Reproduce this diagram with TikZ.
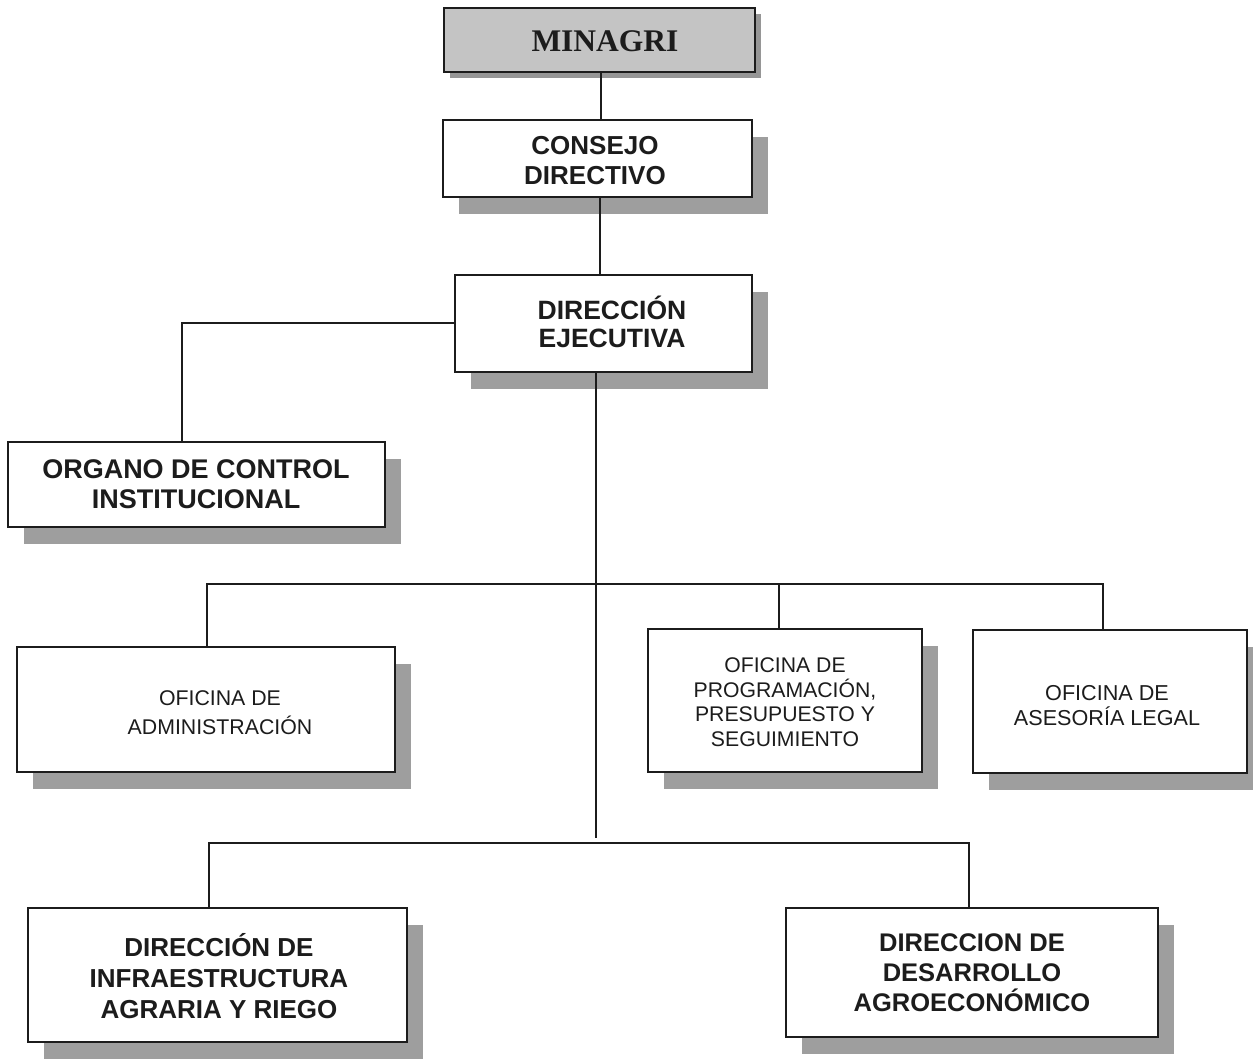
\documentclass[tikz,border=0pt]{standalone}
\usepackage{fontspec}
\setmainfont{Liberation Sans}
\newfontfamily\serifmin{Liberation Serif}
\usetikzlibrary{shadows}
\definecolor{shadowgray}{RGB}{158,158,158}
\definecolor{topfill}{RGB}{196,196,196}
\definecolor{topshadow}{RGB}{150,150,150}
\definecolor{ink}{RGB}{28,28,28}
\tikzset{
  orgbox/.style={draw=ink, line width=1.5pt, fill=white, inner sep=0pt,
    drop shadow={shadow xshift=16pt, shadow yshift=-17pt, fill=shadowgray, opacity=1}},
  topbox/.style={draw=ink, line width=1.5pt, fill=topfill, inner sep=0pt,
    drop shadow={shadow xshift=6pt, shadow yshift=-6pt, fill=topshadow, opacity=1}},
  boldtxt/.style={text=ink, align=center, inner sep=0pt, font=\fontsize{26}{30}\selectfont\bfseries},
  regtxt/.style={text=ink, align=center, inner sep=0pt},
  conn/.style={draw=ink, line width=1.6pt}
}
\begin{document}
\begin{tikzpicture}[x=1pt,y=-1pt]
\useasboundingbox (0,0) rectangle (1253,1058);
\fill[white] (0,0) rectangle (1253,1058);

% boxes
\node[topbox, minimum width=311pt, minimum height=64pt] (minagri) at (599.5,40) {};
\node[text=ink, inner sep=0pt, font=\serifmin\fontsize{31.5}{34}\selectfont\bfseries] (minagriT) at (605,41) {MINAGRI};

\node[orgbox, minimum width=309pt, minimum height=77pt] (consejo) at (597.5,158.5) {};
\node[boldtxt] (consejoT) at (595,161) {CONSEJO\\DIRECTIVO};

\node[orgbox, minimum width=297pt, minimum height=97pt] (dirEj) at (603.5,323.5) {};
\node[boldtxt, font=\fontsize{26.5}{28}\selectfont\bfseries] (dirEjT) at (612,322) {DIRECCIÓN\\EJECUTIVA};

\node[orgbox, minimum width=377pt, minimum height=85pt] (organo) at (196.5,484.5) {};
\node[boldtxt, font=\fontsize{27}{30}\selectfont\bfseries] (organoT) at (196,484) {ORGANO DE CONTROL\\INSTITUCIONAL};

\node[orgbox, minimum width=378pt, minimum height=125pt] (ofAdm) at (206,709.5) {};
\node[regtxt, font=\fontsize{21.3}{29}\selectfont] (ofAdmT) at (220,713) {OFICINA DE\\ADMINISTRACIÓN};

\node[orgbox, minimum width=274pt, minimum height=143pt] (ofProg) at (785,700.5) {};
\node[regtxt, font=\fontsize{21.2}{24.5}\selectfont] (ofProgT) at (785,702) {OFICINA DE\\PROGRAMACIÓN,\\PRESUPUESTO Y\\SEGUIMIENTO};

\node[orgbox, minimum width=274pt, minimum height=143pt] (ofLegal) at (1110,701.5) {};
\node[regtxt, font=\fontsize{21.6}{25}\selectfont] (ofLegalT) at (1107,706) {OFICINA DE\\ASESORÍA LEGAL};

\node[orgbox, minimum width=379pt, minimum height=134pt] (dirInfra) at (217.5,975) {};
\node[boldtxt, font=\fontsize{26}{31}\selectfont\bfseries] (dirInfraT) at (219,976) {DIRECCIÓN DE\\INFRAESTRUCTURA\\AGRARIA Y RIEGO};

\node[orgbox, minimum width=372pt, minimum height=129pt] (dirDes) at (972,972.5) {};
\node[boldtxt, font=\fontsize{25.5}{30}\selectfont\bfseries] (dirDesT) at (972,973) {DIRECCION DE\\DESARROLLO\\AGROECONÓMICO};

% junction coordinates
\coordinate (jTop) at (601,0);
\coordinate (jMid) at (600,0);
\coordinate (jOrg) at (182,323);
\coordinate (trunkEnd) at (596,838);
\coordinate (bus1L) at (207,584);
\coordinate (bus1P) at (779,584);
\coordinate (bus1R) at (1103,584);
\coordinate (bus2L) at (209,843);
\coordinate (bus2R) at (969,843);

% connectors
\draw[conn] (jTop |- minagri.south) -- (jTop |- consejo.north);
\draw[conn] (jMid |- consejo.south) -- (jMid |- dirEj.north);
\draw[conn] (dirEj.west |- jOrg) -- (jOrg) -- (jOrg |- organo.north);
\draw[conn] (trunkEnd |- dirEj.south) -- (trunkEnd);
\draw[conn] (bus1L |- ofAdm.north) -- (bus1L) -- (bus1R) -- (bus1R |- ofLegal.north);
\draw[conn] (bus1P) -- (bus1P |- ofProg.north);
\draw[conn] (bus2L |- dirInfra.north) -- (bus2L) -- (bus2R) -- (bus2R |- dirDes.north);
\end{tikzpicture}
\end{document}
